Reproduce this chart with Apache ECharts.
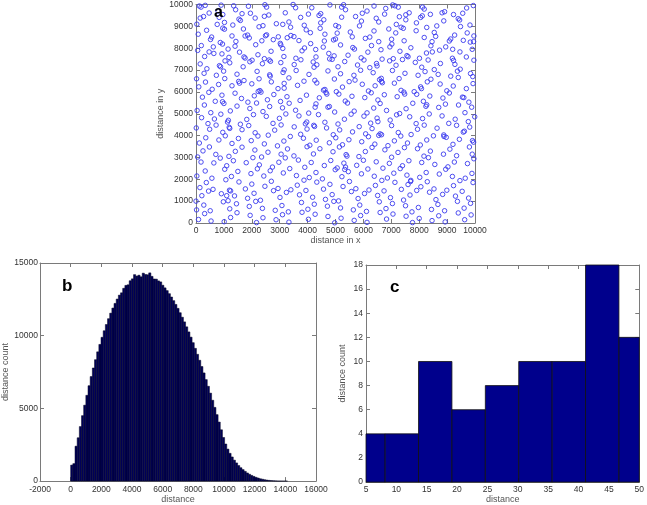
<!DOCTYPE html>
<html lang="en">
<head>
    <meta charset="UTF-8">
    <title>distances</title>
    <script src="https://cdn.jsdelivr.net/npm/echarts@6/dist/echarts.min.js"></script>
    <style>
        html,body{margin:0;padding:0;background:#fff}
        #main{width:647px;height:505px}
    </style>
</head>
<body>
    <div id="main"></div>
    <script>
        // panel a: random points in the 10000 x 10000 square
        var scatterPts = [
            [120,9930],[180,9880],[330,9960],[470,9610],[790,9700],[900,9970],[960,9540],[1350,9940],[1420,9760],[1650,9580],[1880,9920],[1950,9600],[2470,9990],[2530,9880],[2610,9520],[3200,9620],[3480,10000],[3570,9850],[4030,9560],[4150,9850],[4470,9580],[4800,9980],[5220,9880],[5290,9990],[5360,9760],[5960,9600],[6130,9700],[6380,9930],[6760,9560],[6800,9820],[7050,9980],[7130,9940],[7250,9880],[7520,9530],[7640,9620],[8120,9880],[8180,9790],[8400,9550],[8820,9620],[8910,9670],[9230,9540],[9560,9600],[9940,9950],[9700,9840],
            [30,9100],[150,9380],[270,9450],[760,9090],[830,9410],[1020,9180],[1320,9060],[1540,9330],[1590,9270],[2120,9380],[2450,9460],[2400,9030],[2880,9120],[3110,9090],[3330,9200],[3750,9410],[3880,9050],[4410,9500],[4470,9160],[4580,9300],[5010,9040],[5220,9420],[5720,9450],[5860,9020],[5930,9240],[6460,9370],[6550,9200],[7180,9090],[7290,9440],[7520,9300],[7900,9160],[8050,9410],[8110,9480],[8630,9020],[8880,9250],[9400,9350],[9450,9290],[9820,9060],
            [80,8640],[380,8820],[560,8510],[960,8920],[1020,8870],[1290,8560],[1700,8880],[1760,8560],[1850,8600],[2260,8980],[2490,8570],[2530,8610],[2950,8520],[3390,8960],[3400,8580],[3510,8530],[3950,8840],[4100,8710],[4450,8910],[4620,8640],[5110,8980],[5060,8690],[5530,8740],[5600,8520],[6230,8510],[6380,8790],[6910,8880],[7160,8700],[7350,8960],[7430,8910],[7890,8800],[8270,8950],[8540,8720],[8590,8540],[9270,8600],[9480,8990],[9720,8700],[9960,8560],
            [190,8120],[520,8400],[620,8060],[870,8260],[950,8190],[1400,8090],[1430,8310],[1910,8470],[2140,8160],[2360,8340],[2770,8390],[3020,8220],[3040,8150],[3270,8480],[3690,8350],[3890,8010],[4110,8210],[4560,8050],[4600,8330],[4930,8380],[5000,8420],[5180,8150],[5620,8030],[6070,8450],[6290,8120],[6550,8300],[6950,8060],[7010,8410],[7020,8190],[7460,8340],[7700,8020],[8180,8490],[8420,8110],[8460,8300],[8950,8060],[9080,8330],[9130,8420],[9580,8360],[9830,8280],[9950,8300],
            [60,7900],[310,7620],[470,7830],[640,7760],[930,7740],[1150,7960],[1180,7580],[1560,7820],[1720,7600],[1760,7550],[2220,7700],[2450,7520],[2690,7860],[3110,7990],[3150,7620],[3580,7540],[3800,7880],[4290,7940],[4300,7600],[4760,7760],[4790,7510],[4950,7650],[5450,7680],[5680,7960],[5920,7560],[6160,7820],[6630,7930],[6670,7500],[7070,7520],[7310,7860],[7560,7660],[7600,7610],[8010,7540],[8260,7780],[8470,7830],[8730,7910],[9190,7540],[9200,7950],[9460,7830],[9690,7600],[9900,7950],
            [150,7280],[390,7060],[840,7200],[880,7150],[1040,7420],[1210,7330],[1690,7150],[1930,7380],[2010,7450],[2380,7290],[2620,7460],[2670,7400],[3040,7340],[3160,7010],[3520,7250],[3760,7470],[4200,7370],[4230,7130],[4330,7240],[4880,7490],[5090,7150],[5330,7390],[5790,7230],[6020,7460],[6230,7110],[6470,7300],[6490,7190],[6940,7420],[7170,7220],[7400,7480],[7860,7350],[8090,7130],[8320,7460],[8540,7020],[8760,7300],[9230,7440],[9280,7260],[9470,7040],[9960,7450],
            [20,6600],[290,6850],[730,6760],[990,6950],[1030,6610],[1470,6810],[1720,6520],[2190,6940],[2260,6600],[2640,6780],[2660,6720],[3120,6890],[3330,6640],[3590,6980],[4050,6800],[4260,6530],[4730,6960],[4960,6590],[5180,6830],[5660,6760],[5700,6540],[5900,6990],[6350,6880],[6580,6560],[6640,6620],[7040,6980],[7280,6610],[7490,6850],[7960,6760],[8210,6930],[8420,6580],[8680,6800],[9130,6720],[9370,6950],[9400,6660],[9840,6840],[9920,6700],
            [100,6230],[340,6450],[580,6120],[810,6340],[1290,6280],[1530,6480],[1560,6400],[2000,6370],[2230,6020],[2290,6060],[2700,6460],[2940,6150],[3160,6390],[3160,6170],[3640,6300],[3870,6490],[4330,6410],[4570,6080],[4620,6110],[5030,6010],[5250,6220],[5490,6470],[5960,6350],[6180,6040],[6420,6280],[6650,6480],[6680,6420],[7110,6400],[7350,6070],[7820,6010],[8050,6230],[8080,6150],[8290,6460],[8750,6360],[8990,6050],[9220,6270],[9690,6150],[9930,6380],
            [230,5760],[460,5980],[690,5570],[930,5850],[950,5550],[1400,5940],[1630,5700],[1860,5530],[2090,5820],[2330,5990],[2560,5640],[2790,5880],[3030,5560],[3260,5780],[3730,5610],[3960,5850],[4420,5730],[4660,5970],[4690,5900],[5120,5900],[5350,5580],[5590,5800],[6050,5740],[6280,5960],[6520,5630],[6750,5870],[7210,5780],[7450,5990],[7480,5900],[7910,5890],[8150,5570],[8380,5810],[8850,5720],[9080,5950],[9550,5760],[9600,5740],[9780,5530],
            [40,5150],[300,5400],[530,5050],[1000,5470],[1230,5130],[1470,5350],[1930,5240],[2170,5490],[2400,5100],[2640,5330],[3100,5270],[3340,5480],[3570,5160],[4040,5030],[4270,5300],[4300,5450],[4730,5300],[4780,5330],[4970,5080],[5430,5490],[5670,5120],[6130,5040],[6370,5260],[6600,5470],[6830,5150],[7300,5010],[7530,5230],[7770,5480],[8240,5340],[8270,5410],[8700,5290],[8940,5440],[9410,5400],[9640,5050],[9880,5300],
            [200,4820],[430,4550],[660,4760],[890,4980],[1130,4620],[1160,4700],[1590,4520],[1820,4740],[2060,4960],[2520,4880],[2760,4560],[2990,4790],[3220,4990],[3690,4900],[3920,4540],[3970,4620],[4390,4960],[4620,4610],[5090,4530],[5320,4750],[5560,4980],[6020,4890],[6260,4570],[6490,4800],[6520,4640],[6960,4710],[7190,4950],[7660,4860],[7890,4550],[8120,4780],[8360,4990],[8820,4900],[9060,4560],[9290,4750],[9760,4640],[9990,4860],
            [10,4350],[490,4290],[720,4480],[960,4150],[1190,4380],[1210,4330],[1650,4270],[1890,4460],[2120,4130],[2590,4020],[2820,4250],[3050,4490],[3520,4400],[3750,4060],[3980,4300],[4220,4470],[4250,4420],[4680,4350],[4920,4040],[5150,4260],[5610,4170],[5850,4410],[6080,4080],[6310,4320],[6550,4010],[6600,4080],[6650,4040],[7010,4460],[7250,4140],[7710,4050],[7940,4290],[8180,4480],[8640,4340],[8880,4030],[8890,3960],[9340,4470],[9580,4160],[9620,4200],[9810,4390],
            [120,3660],[350,3900],[820,3800],[1050,3990],[1290,3640],[1520,3870],[1980,3770],[2220,3980],[2450,3620],[2920,3530],[3150,3750],[3380,3960],[3850,3880],[4080,3560],[4310,3790],[4780,3670],[5010,3900],[5250,3580],[5480,3810],[5940,3720],[6180,3950],[6410,3610],[6880,3540],[7110,3760],[7340,3980],[7580,3660],[8040,3570],[8270,3800],[8510,3990],[8970,3920],[9210,3600],[9440,3830],[9910,3770],[9950,3700],
            [60,3020],[250,3300],[480,3480],[710,3140],[1180,3050],[1410,3280],[1650,3470],[2110,3340],[2350,3020],[2580,3240],[3050,3150],[3280,3390],[3510,3070],[3980,3490],[4210,3160],[4440,3400],[4910,3260],[5140,3480],[5380,3130],[5410,3060],[5840,3040],[6070,3270],[6310,3460],[6770,3350],[7010,3010],[7240,3230],[7470,3450],[7940,3400],[8170,3060],[8400,3290],[8870,3150],[9100,3380],[9340,3080],[9800,3480],[9900,3150],
            [180,2790],[640,2750],[870,2970],[1100,2620],[1340,2850],[1800,2760],[2040,2990],[2270,2660],[2740,2560],[2970,2780],[3200,2980],[3670,2880],[3900,2550],[4130,2770],[4600,2630],[4830,2860],[5060,2520],[5300,2740],[5330,2450],[5360,2560],[5760,2640],[6000,2870],[6460,2800],[6700,2510],[6930,2730],[7400,2620],[7630,2850],[8090,2770],[8330,2990],[8560,2680],[9030,2570],[9260,2790],[9730,2720],[9960,2940],
            [30,2150],[330,2380],[570,2050],[1030,2460],[1270,2130],[1500,2360],[1970,2260],[2200,2480],[2430,2150],[2660,2390],[3130,2290],[3360,2490],[3600,2170],[4060,2080],[4300,2310],[4530,2020],[4990,2440],[5230,2120],[5460,2350],[5930,2250],[6160,2470],[6390,2140],[6860,2060],[7090,2280],[7320,2490],[7560,2190],[7690,1900],[7700,1950],[8020,2090],[8250,2310],[8720,2240],[8950,2460],[9190,2130],[9650,2050],[9890,2270],
            [140,1620],[370,1850],[610,1540],[1070,1980],[1200,1500],[1240,1470],[1540,1880],[1770,1560],[2000,1780],[2470,1680],[2700,1910],[2940,1580],[3400,1520],[3630,1730],[3870,1960],[4330,1870],[4570,1550],[4800,1770],[5270,1670],[5500,1900],[5730,1570],[6200,1510],[6430,1720],[6660,1950],[7130,1860],[7360,1540],[7600,1760],[8060,1660],[8290,1890],[8530,1560],[8990,1500],[9230,1710],[9460,1940],[9930,1850],
            [0,1000],[210,1250],[450,1460],[910,1340],[1100,1250],[1150,1020],[1380,1240],[1850,1130],[2080,1360],[2310,1040],[2780,1480],[3010,1170],[3240,1400],[3710,1290],[3940,1490],[4180,1180],[4640,1080],[4880,1300],[5110,1010],[5570,1440],[5810,1120],[6040,1350],[6510,1260],[6740,1470],[6970,1160],[7440,1050],[7670,1280],[7910,1490],[8370,1410],[8600,1070],[8840,1310],[9300,1230],[9540,1450],[9770,1140],
            [20,600],[280,820],[510,560],[980,970],[1210,650],[1450,880],[1910,760],[2140,990],[2380,670],[2840,580],[3080,800],[3310,510],[3780,940],[4010,630],[4240,860],[4710,770],[4940,990],[5180,690],[5640,600],[5870,820],[6110,530],[6570,970],[6810,660],[7040,890],[7510,790],[7740,510],[7970,710],[8440,620],[8670,850],[8910,560],[9370,990],[9610,680],[9840,900],
            [90,160],[310,430],[540,90],[1010,60],[1240,250],[1470,470],[1940,350],[2170,20],[2400,240],[2870,150],[3100,380],[3330,40],[3800,490],[4030,170],[4270,400],[4730,300],[4970,10],[5200,220],[5670,120],[5900,340],[6130,30],[6600,480],[6830,180],[7060,410],[7530,310],[7760,20],[8000,210],[8460,110],[8700,330],[8930,50],[9400,460],[9630,150],[9860,370]
        ];

        // panel b: histogram of all pair distances, 100 bins
        var bBinWidth = 141.4;
        var bCounts = [
            1100,1200,2400,2980,3750,4500,5220,5900,6560,7190,
            7780,8350,8890,9400,9890,10340,10770,11170,11550,11900,
            12220,12520,12790,12950,13260,13460,13500,13780,13910,14200,
            14100,14160,14050,14300,14210,14190,14320,14080,13900,13890,
            13770,13700,13470,13290,13100,12890,12660,12410,12150,11880,
            11580,11270,10950,10610,10260,9900,9520,9130,8720,8310,
            7880,7440,6980,6520,6050,5560,5070,4570,4060,3530,
            3000,2550,2200,1910,1660,1440,1250,1070,920,790,
            670,560,470,390,320,260,210,160,130,95,
            70,50,35,24,15,9,5,2,1,0
        ];

        // panel c: histogram of short distances
        var cEdges = [2.65, 8.15, 13.65, 19.15, 24.65, 30.15, 35.65, 41.15, 46.65, 52.15];
        var cCounts = [4, 4, 10, 6, 8, 10, 10, 18, 12];

        var bData = [];
        for (var i = 0; i < bCounts.length; i++) {
            bData.push([i * bBinWidth, (i + 1) * bBinWidth, bCounts[i]]);
        }
        var cData = [];
        for (var j = 0; j < cCounts.length; j++) {
            cData.push([cEdges[j], cEdges[j + 1], cCounts[j]]);
        }

        var font = 'Liberation Sans, Arial, sans-serif';
        var lineCol = '#7a7a7a';

        function histBar(fill, stroke, lw) {
            return function (params, api) {
                var p0 = api.coord([api.value(0), api.value(2)]);
                var p1 = api.coord([api.value(1), 0]);
                var cs = params.coordSys;
                var x0 = Math.max(p0[0], cs.x);
                var x1 = Math.min(p1[0], cs.x + cs.width);
                if (x1 <= x0) return null;
                return {
                    type: 'rect',
                    shape: {x: x0, y: p0[1], width: x1 - x0, height: p1[1] - p0[1]},
                    style: {fill: fill, stroke: stroke, lineWidth: lw}
                };
            };
        }

        function mainAxis(grid, pos, min, max, interval, name, gap, margin) {
            return {
                gridIndex: grid, type: 'value', position: pos,
                min: min, max: max, interval: interval,
                name: name, nameLocation: 'middle', nameGap: gap,
                nameTextStyle: {fontFamily: font, fontSize: 9, color: '#555'},
                axisLine: {show: true, onZero: false, lineStyle: {color: lineCol, width: 1}},
                axisTick: {show: true, inside: true, length: 4, lineStyle: {color: lineCol}},
                axisLabel: {
                    show: true, margin: margin, fontFamily: font, fontSize: 8.5, color: '#333',
                    hideOverlap: false, showMinLabel: true, showMaxLabel: true,
                    formatter: function (v) { return String(v); }
                },
                splitLine: {show: false}
            };
        }
        function mirrorAxis(grid, pos, min, max, interval) {
            return {
                gridIndex: grid, type: 'value', position: pos,
                min: min, max: max, interval: interval,
                axisLine: {show: true, onZero: false, lineStyle: {color: lineCol, width: 1}},
                axisTick: {show: true, inside: true, length: 4, lineStyle: {color: lineCol}},
                axisLabel: {show: false},
                splitLine: {show: false}
            };
        }

        var chart = echarts.init(document.getElementById('main'));
        var option = {
            animation: false,
            backgroundColor: '#fff',
            title: [
                {text: 'a', left: 214, top: 5, padding: 0, textStyle: {fontFamily: font, fontSize: 16, fontWeight: 'bold', color: '#000'}},
                {text: 'b', left: 62, top: 278, padding: 0, textStyle: {fontFamily: font, fontSize: 17, fontWeight: 'bold', color: '#000'}},
                {text: 'c', left: 390, top: 279, padding: 0, textStyle: {fontFamily: font, fontSize: 17, fontWeight: 'bold', color: '#000'}}
            ],
            grid: [
                {left: 196, top: 4, width: 279, height: 219},
                {left: 36, top: 263, width: 280, height: 219},
                {left: 366, top: 265, width: 279, height: 220}
            ],
            xAxis: [
                mainAxis(0, 'bottom', 0, 10000, 1000, 'distance in x', 13, 3),
                mirrorAxis(0, 'top', 0, 10000, 1000),
                mainAxis(1, 'bottom', -2000, 16000, 2000, 'distance', 13, 4),
                mirrorAxis(1, 'top', -2000, 16000, 2000),
                mainAxis(2, 'bottom', 5, 50, 5, 'distance', 12, 3),
                mirrorAxis(2, 'top', 5, 50, 5)
            ],
            yAxis: [
                mainAxis(0, 'left', 0, 10000, 1000, 'distance in y', 31, 3),
                mirrorAxis(0, 'right', 0, 10000, 1000),
                mainAxis(1, 'left', 0, 15000, 5000, 'distance count', 30, 2),
                mirrorAxis(1, 'right', 0, 15000, 5000),
                mainAxis(2, 'left', 0, 18, 2, 'distance count', 19, 3),
                mirrorAxis(2, 'right', 0, 18, 2)
            ],
            series: [
                {
                    type: 'scatter', xAxisIndex: 0, yAxisIndex: 0,
                    data: scatterPts,
                    symbol: 'circle', symbolSize: 4.5,
                    itemStyle: {color: 'rgba(0,0,0,0)', borderColor: '#3a3aee', borderWidth: 0.9, opacity: 1},
                    emphasis: {disabled: true}
                },
                {
                    type: 'custom', xAxisIndex: 2, yAxisIndex: 2,
                    data: bData, encode: {x: [0, 1], y: 2},
                    renderItem: histBar('#000058', '#050520', 0.5)
                },
                {
                    type: 'custom', xAxisIndex: 4, yAxisIndex: 4,
                    data: cData, encode: {x: [0, 1], y: 2},
                    renderItem: histBar('#00008c', '#111111', 0.8)
                }
            ]
        };
        chart.setOption(option);
    </script>
</body>
</html>
